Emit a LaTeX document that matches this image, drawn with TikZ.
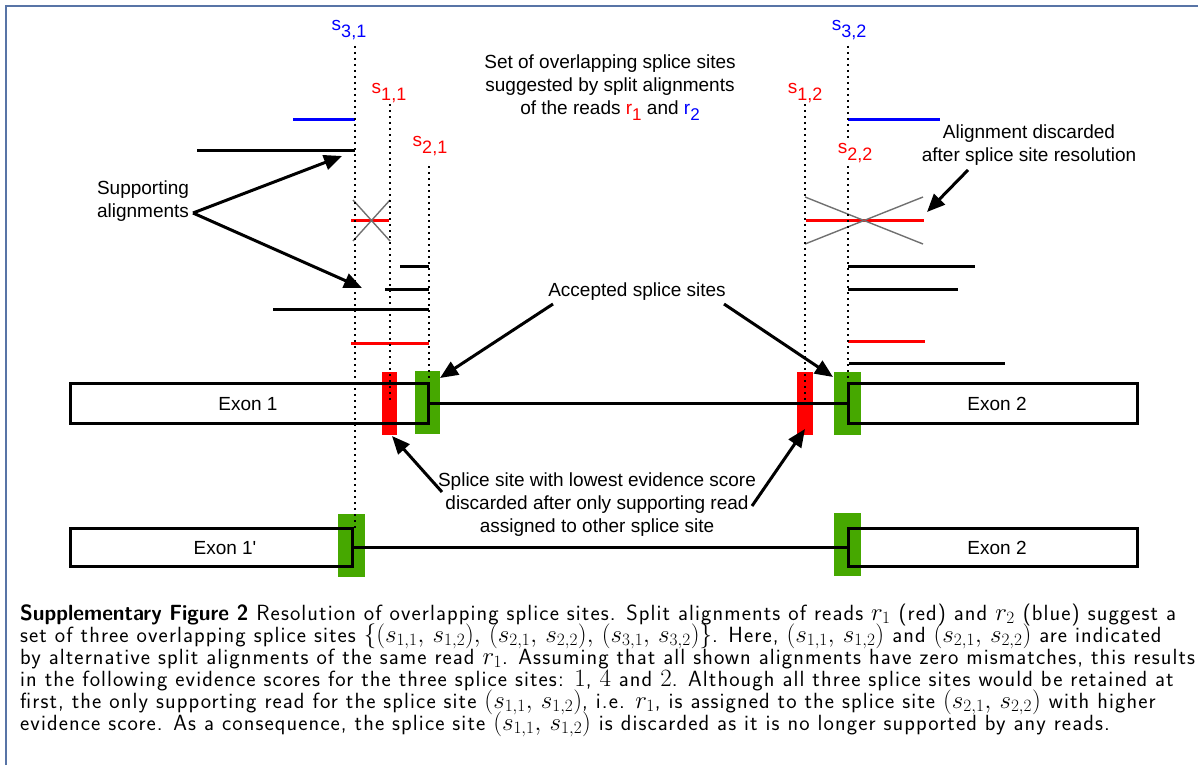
\documentclass[tikz,border=0pt]{standalone}
\usepackage{graphicx}
\usepackage{fontspec}
\newfontfamily\arial{Liberation Sans}
\newfontfamily\capfont[LetterSpace=5]{Latin Modern Sans}
\newfontfamily\capplain{Latin Modern Sans}
\DeclareMathSizes{24}{24}{19}{15}
\usetikzlibrary{arrows.meta}
\definecolor{exongreen}{HTML}{46A800}
\definecolor{sitered}{HTML}{FF0000}
\definecolor{siteblue}{HTML}{0000FF}
\definecolor{crossgray}{HTML}{707070}
\definecolor{framecol}{HTML}{5874A6}
% site name with a lowered index, as in s_{3,1}
\newcommand\sitename[2]{s\raisebox{-7pt}{\fontsize{18}{18}\selectfont #1,#2}}
\newcommand\readname[1]{r\raisebox{-6pt}{\fontsize{17}{17}\selectfont #1}}
\newcommand\capbold[1]{{\capplain\bfseries\scalebox{0.95}[1]{#1}}}
% caption math, set a little larger than the caption text
\newcommand\cm[1]{{\fontsize{24}{22}\selectfont$#1$}}
\newcommand\sitepair[2]{(s_{#1},\,s_{#2})}
\tikzset{
  lbl/.style={font=\arial\fontsize{19}{23}\selectfont, align=center, inner sep=1pt},
  sitelbl/.style={font=\arial\fontsize{19}{23}\selectfont, fill=white, inner sep=1pt},
  siteline/.style={line width=2.2pt, dash pattern=on 2.2pt off 3.8pt},
  aln/.style={line width=3pt},
  exonbox/.style={draw, line width=3pt, inner sep=0pt},
  splicebox/.style={inner sep=0pt, minimum height=63pt},
  arr/.style={line width=3pt, -{Triangle[length=18pt,width=15pt]}},
  crossout/.style={crossgray, line width=1.4pt},
  captext/.style={font=\capfont\fontsize{22}{22}\selectfont, anchor=base west, inner sep=0pt}
}
\begin{document}
\begin{tikzpicture}[x=1pt,y=-1pt]
\useasboundingbox (0,0) rectangle (1198,765);
% frame
\draw[framecol, line width=2pt] (6,765) -- (6,6) -- (1198,6);

% splice site boxes (behind the exons)
\node[splicebox, fill=sitered, minimum width=15pt] (r11) at (389.5,403.5) {};
\node[splicebox, fill=exongreen, minimum width=25pt] (g21) at (427.5,402.5) {};
\node[splicebox, fill=sitered, minimum width=16pt] (r12) at (805,403.5) {};
\node[splicebox, fill=exongreen, minimum width=27pt] (g22) at (847.5,403.5) {};
\node[splicebox, fill=exongreen, minimum width=27pt] (g31) at (351.5,545.5) {};
\node[splicebox, fill=exongreen, minimum width=27pt] (g32) at (847.5,544.5) {};

% exons, first row
\node[exonbox, minimum width=358pt, minimum height=40pt] (exA) at (249,403) {};
\node[exonbox, minimum width=289pt, minimum height=40pt] (exB) at (992.5,403) {};
\draw[aln] (exA.east) -- (exB.west);
\node[lbl] (exAt) at (248,404) {Exon 1};
\node[lbl] (exBt) at (997,404) {Exon 2};

% exons, second row
\node[exonbox, minimum width=282pt, minimum height=38pt] (exC) at (211,547) {};
\node[exonbox, minimum width=289pt, minimum height=38pt] (exD) at (992.5,547) {};
\draw[aln] (exC.east) -- (exD.west);
\node[lbl] (exCt) at (225,548) {Exon 1'};
\node[lbl] (exDt) at (997,548) {Exon 2};

% split alignments, left side
\draw[aln, siteblue] (293,120) -- (355,120);
\draw[aln] (197,150) -- (355,150);
\draw[aln, sitered] (351,220.5) -- (389,220.5);
\draw[crossout] (353,200) -- (390,241);
\draw[crossout] (353,241) -- (390,200);
\draw[aln] (400,266) -- (429,266);
\draw[aln] (385,289) -- (429,289);
\draw[aln] (273,309) -- (429,309);
\draw[aln, sitered] (351,343.5) -- (429,343.5);

% split alignments, right side
\draw[aln, siteblue] (848,120) -- (940,120);
\draw[aln, sitered] (806,220.5) -- (924,220.5);
\draw[crossout] (805,197) -- (923,244);
\draw[crossout] (805,244) -- (923,197);
\draw[aln] (848,266) -- (975,266);
\draw[aln] (848,289) -- (958,289);
\draw[aln, sitered] (848,341) -- (925,341);
\draw[aln] (849,363) -- (1005,363);

% splice site positions
\coordinate (s31end) at (355,530);
\coordinate (s11end) at (390,403);
\coordinate (s21end) at (429,383);
\coordinate (s12end) at (805,403);
\coordinate (s32end) at (848,383);
\coordinate (s31top) at (355,46);
\coordinate (s11top) at (390,104);
\coordinate (s21top) at (429,166);
\coordinate (s12top) at (805,104);
\coordinate (s32top) at (848,46);
\draw[siteline] (s31top) -- (s31end);
\draw[siteline] (s11top) -- (s11end);
\draw[siteline] (s21top) -- (s21end);
\draw[siteline] (s12top) -- (s12end);
\draw[siteline] (s32top) -- (s32end);

\node[sitelbl, text=siteblue] (s31) at (349,30) {\sitename{3}{1}};
\node[sitelbl, text=sitered] (s11) at (389,93) {\sitename{1}{1}};
\node[sitelbl, text=sitered] (s21) at (430,146) {\sitename{2}{1}};
\node[sitelbl, text=sitered] (s12) at (805,93) {\sitename{1}{2}};
\node[sitelbl, text=siteblue] (s32) at (849,30) {\sitename{3}{2}};
\node[sitelbl, text=sitered] (s22) at (855,153) {\sitename{2}{2}};

% annotations
\node[lbl] (setof) at (610,88) {Set of overlapping splice sites\\suggested by split alignments\\of the reads {\color{sitered}\readname{1}} and {\color{siteblue}\readname{2}}};

\node[lbl] (supp) at (143,201) {Supporting\\alignments};
\coordinate (suppfrom) at (193,213);
\coordinate (suppto1) at (342,156);
\coordinate (suppto2) at (362,288);
\draw[arr] (suppfrom) -- (suppto1);
\draw[arr] (suppfrom) -- (suppto2);

\node[lbl] (acc) at (637,292) {Accepted splice sites};
\coordinate (accfrom1) at (553,304);
\coordinate (accfrom2) at (724,304);
\coordinate (accto1) at (440,378);
\coordinate (accto2) at (833,377);
\draw[arr] (accfrom1) -- (accto1);
\draw[arr] (accfrom2) -- (accto2);

\node[lbl] (disc) at (1029,145) {Alignment discarded\\after splice site resolution};
\coordinate (discfrom) at (968,170);
\coordinate (discto) at (927,212);
\draw[arr] (discfrom) -- (discto);

\node[lbl] (low) at (597,505) {Splice site with lowest evidence score\\discarded after only supporting read\\assigned to other splice site};
\coordinate (lowfrom1) at (442,492);
\coordinate (lowfrom2) at (752,506);
\coordinate (lowto1) at (392,436);
\coordinate (lowto2) at (805,429);
\draw[arr] (lowfrom1) -- (lowto1);
\draw[arr] (lowfrom2) -- (lowto2);

% caption
\node[captext] (cap1) at (20,620) {\capbold{Supplementary Figure 2} Resolution of overlapping splice sites. Split alignments of reads \cm{r_1} (red) and \cm{r_2} (blue) suggest a};
\node[captext] (cap2) at (20,642) {set of three overlapping splice sites \cm{\{\sitepair{1,1}{1,2},\,\sitepair{2,1}{2,2},\,\sitepair{3,1}{3,2}\}}. Here, \cm{\sitepair{1,1}{1,2}} and \cm{\sitepair{2,1}{2,2}} are indicated};
\node[captext] (cap3) at (20,664) {by alternative split alignments of the same read \cm{r_1}. Assuming that all shown alignments have zero mismatches, this results};
\node[captext] (cap4) at (20,686) {in the following evidence scores for the three splice sites: \cm{1}, \cm{4} and \cm{2}. Although all three splice sites would be retained at};
\node[captext] (cap5) at (20,708) {first, the only supporting read for the splice site \cm{\sitepair{1,1}{1,2}}, i.e. \cm{r_1}, is assigned to the splice site \cm{\sitepair{2,1}{2,2}} with higher};
\node[captext] (cap6) at (20,730) {evidence score. As a consequence, the splice site \cm{\sitepair{1,1}{1,2}} is discarded as it is no longer supported by any reads.};
\end{tikzpicture}
\end{document}
